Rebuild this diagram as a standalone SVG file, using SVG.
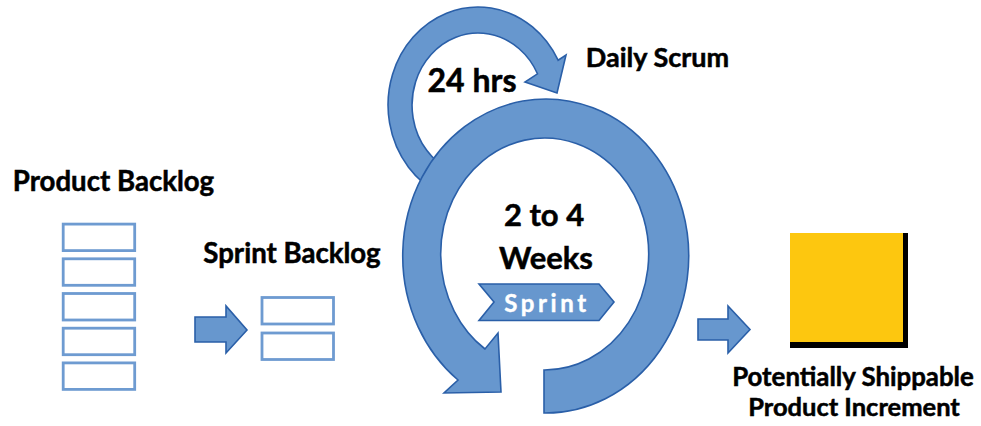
<svg xmlns="http://www.w3.org/2000/svg" width="981" height="426" viewBox="0 0 981 426">
  <style>
    .lbl { font-family: Lato, "Open Sans", "Liberation Sans", sans-serif; font-weight: 700; fill: #000; stroke: #000; stroke-width: 0.5; text-anchor: middle; }
    .shape { fill: #6797CE; stroke: #2A5FA8; stroke-width: 1.6; stroke-linejoin: miter; }
    .item { fill: #fff; stroke: #6E9BD1; stroke-width: 2.8; }
    .tag { font-family: Lato, "Open Sans", "Liberation Sans", sans-serif; font-weight: 700; fill: #fff; stroke: #fff; stroke-width: 0.4; text-anchor: middle; letter-spacing: 3.6px; }
  </style>
  <rect width="981" height="426" fill="#fff"/>

  <!-- Product backlog: label and five stacked items -->
  <g id="product-backlog">
    <text class="lbl" x="113.5" y="191" font-size="27.6">Product Backlog</text>
    <rect class="item" x="63.2" y="224.1" width="71.5" height="26.5"/>
    <rect class="item" x="63.2" y="258.8" width="71.5" height="26.5"/>
    <rect class="item" x="63.2" y="293.5" width="71.5" height="26.5"/>
    <rect class="item" x="63.2" y="328.2" width="71.5" height="26.5"/>
    <rect class="item" x="63.2" y="362.9" width="71.5" height="26.5"/>
  </g>

  <!-- Sprint backlog: label and two items -->
  <g id="sprint-backlog">
    <text class="lbl" x="292" y="263" font-size="27.6">Sprint Backlog</text>
    <rect class="item" x="262" y="297.5" width="71.5" height="26.5"/>
    <rect class="item" x="262" y="333" width="71.5" height="26.5"/>
  </g>

  <!-- Daily scrum loop (drawn first so the sprint ring overlaps its tail) -->
  <g id="daily-scrum">
    <path class="shape" d="M440,193.8 A90,98 0 1 1 558.1,60.2 L566,55 L557,93 L525,82 L537.5,73.8 A66,72 0 1 0 450.1,170.3 Z"/>
    <text class="lbl" x="472" y="92" font-size="32">24 hrs</text>
    <text class="lbl" x="657.5" y="67" font-size="27">Daily Scrum</text>
  </g>

  <!-- Sprint cycle ring with arrowhead -->
  <g id="sprint-cycle">
    <path class="shape" d="M544,413 A143,157 0 1 0 458,380 L444,393 L501,392 L498,333 L485,349 A104,116 0 1 1 544,370 Z"/>
    <text class="lbl" x="544" y="226" font-size="31">2 to 4</text>
    <text class="lbl" x="546" y="269" font-size="31">Weeks</text>
    <polygon class="shape" points="479,284 599,284 614,302 599,320.5 479,320.5 494,302"/>
    <text class="tag" x="547" y="311.5" font-size="24">Sprint</text>
  </g>

  <!-- Potentially shippable increment -->
  <g id="increment">
    <rect x="790" y="233" width="118" height="115" fill="#000"/>
    <rect x="790" y="233" width="113" height="109" fill="#FDC70F"/>
    <text class="lbl" x="853" y="386" font-size="25.8">Potentially Shippable</text>
    <text class="lbl" x="854" y="416" font-size="25.5">Product Increment</text>
  </g>

  <!-- Flow arrows between stages -->
  <g id="connectors">
    <polygon class="shape" points="195,317 226,317 226,306 247,330 226,353 226,342 195,342"/>
    <polygon class="shape" points="698,319 728,319 728,306 750,329.5 728,353 728,340 698,340"/>
  </g>
</svg>
